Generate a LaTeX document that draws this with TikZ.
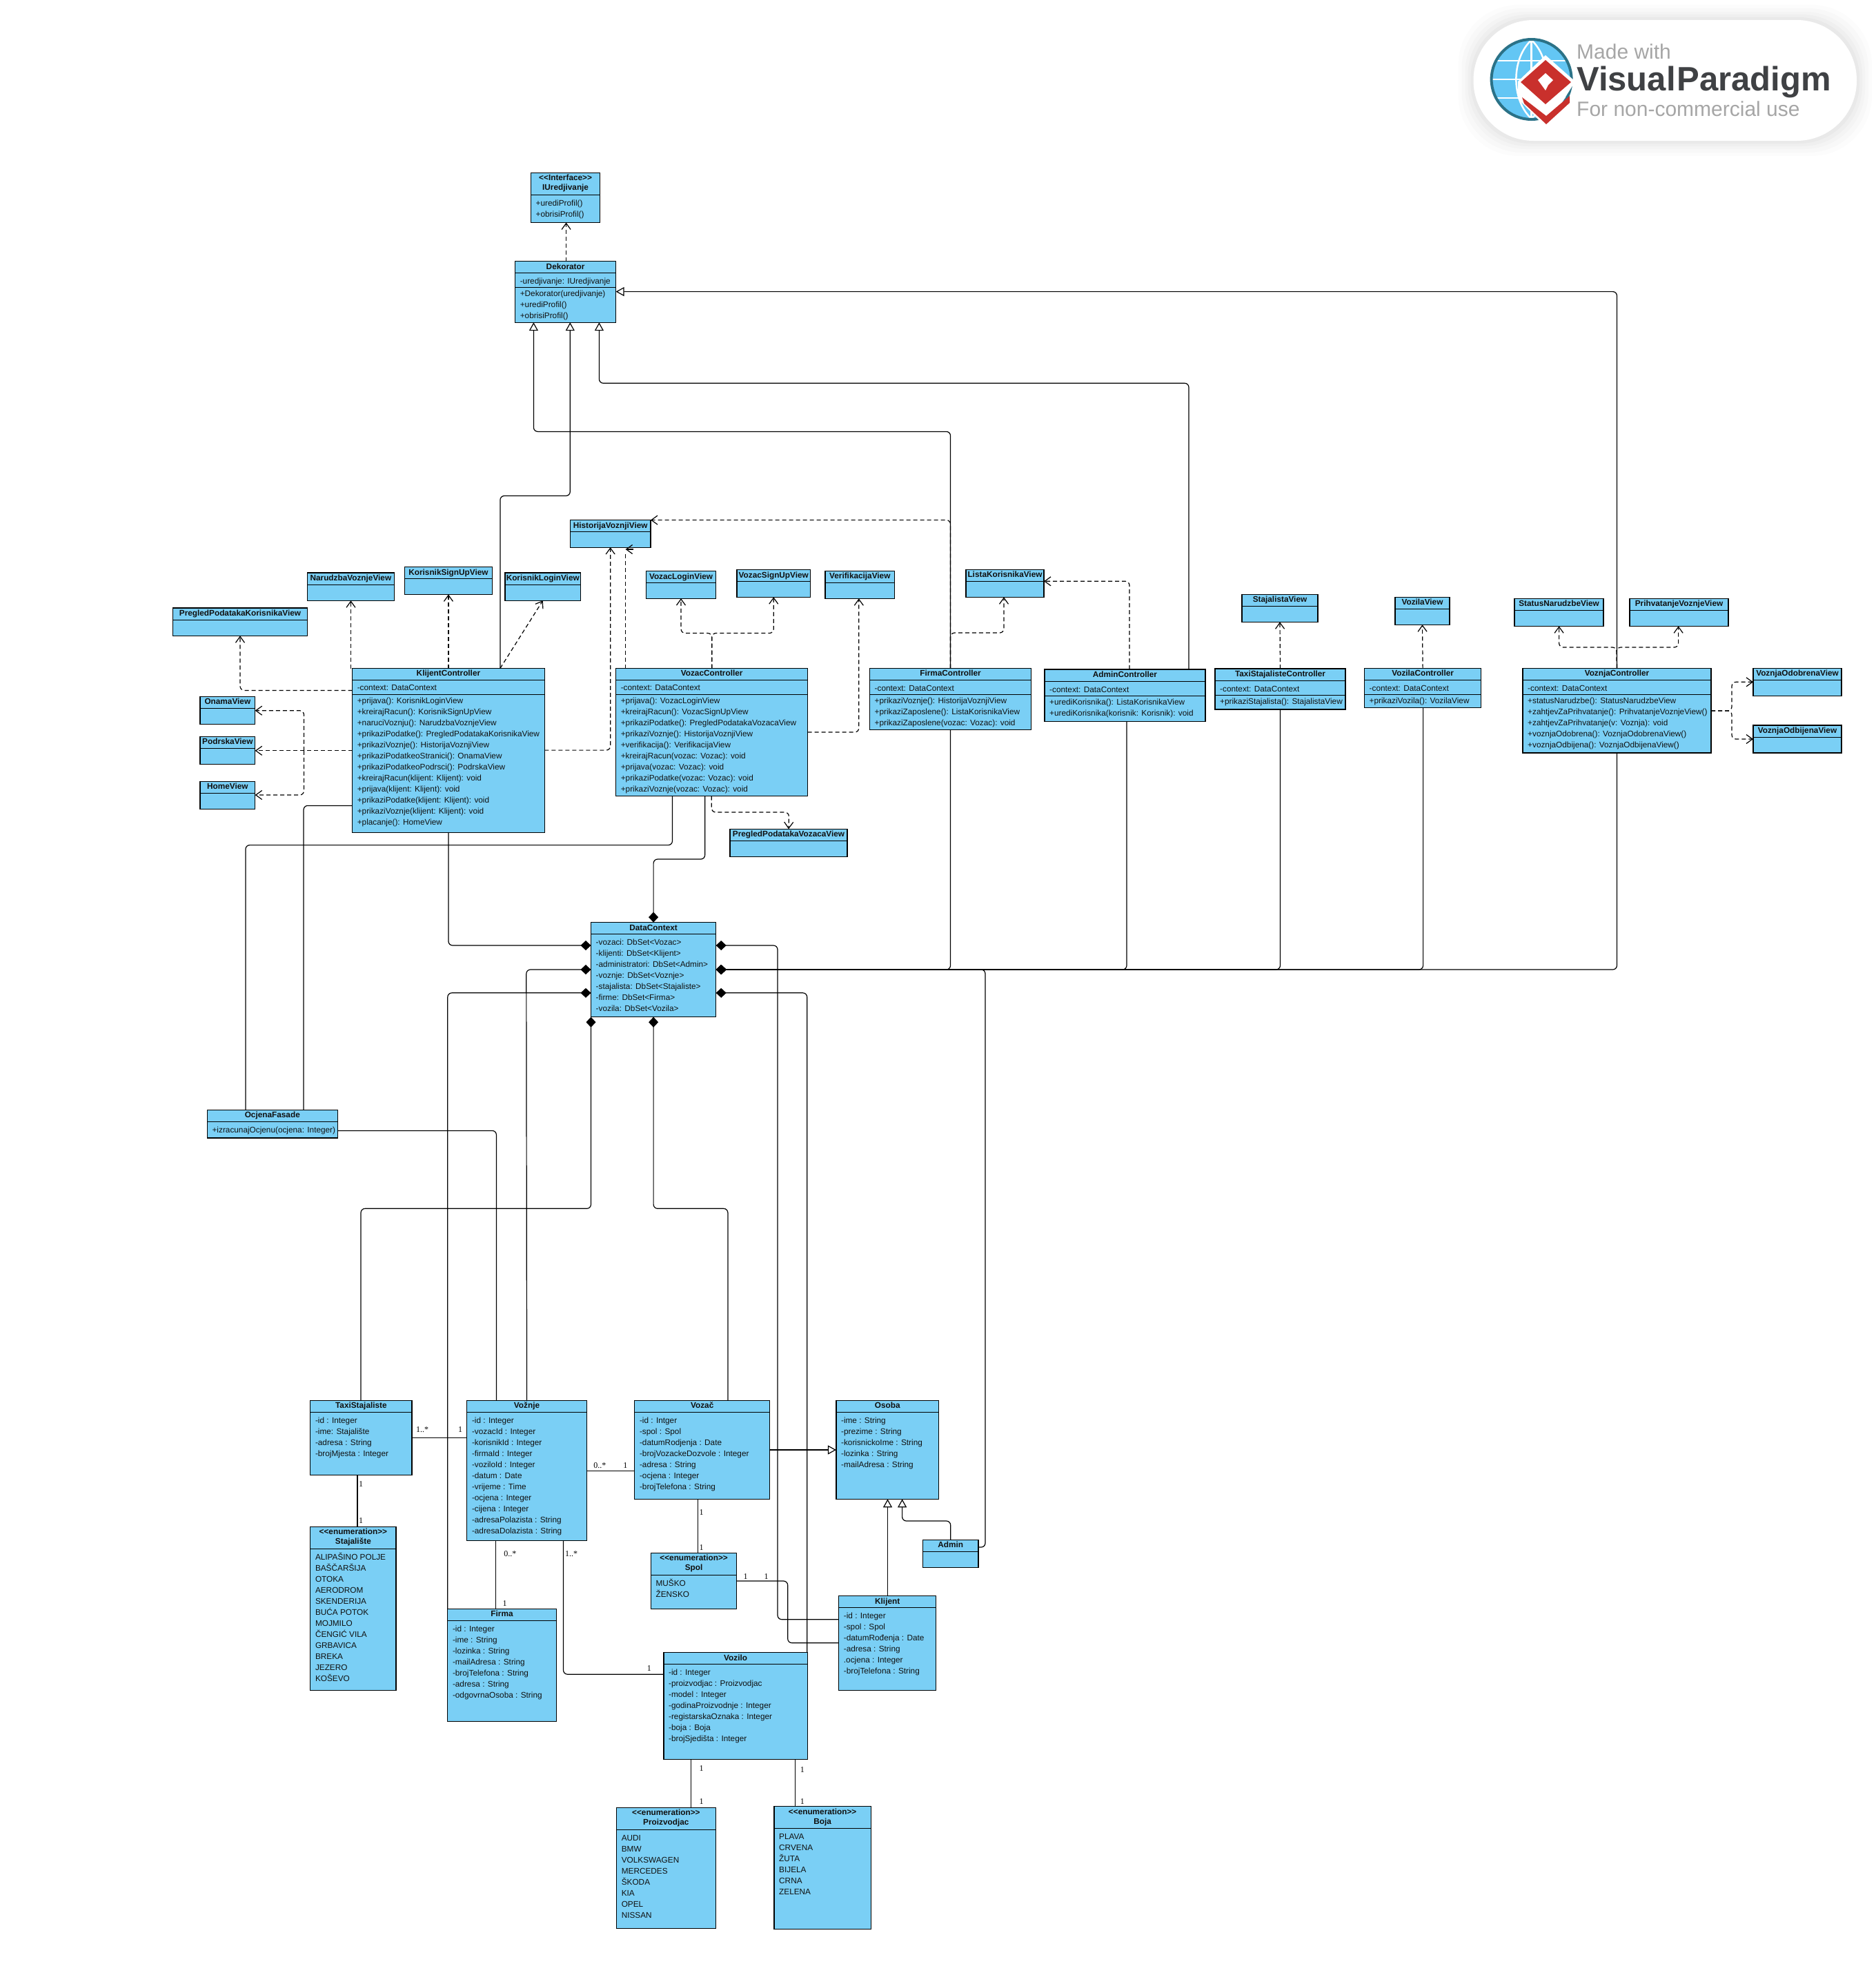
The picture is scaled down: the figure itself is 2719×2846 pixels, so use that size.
\documentclass[tikz,border=0pt]{standalone}
\usepackage{fontspec}
\usetikzlibrary{arrows.meta}
\newfontfamily\umlf{Liberation Sans}
\newfontfamily\multf{Liberation Serif}
\definecolor{umlfill}{HTML}{7ACFF5}
\definecolor{umltext}{HTML}{101010}
\definecolor{vpgray}{HTML}{A6A6A6}
\definecolor{vpdark}{HTML}{3F4144}
\definecolor{vpred}{HTML}{C9302C}
\definecolor{vpblue}{HTML}{63C6F4}
\definecolor{vpteal}{HTML}{2B7287}
\tikzset{
  umlbox/.style={draw=black,fill=umlfill,line width=1.2pt,inner sep=0,outer sep=0,anchor=north west},
  umlline/.style={draw=black,line width=1pt},
  umltitle/.style={inner sep=0,anchor=north,align=center,text=umltext,font=\umlf\bfseries\fontsize{11.8}{14}\selectfont},
  umlrows/.style={inner sep=0,anchor=north west,align=left,text=umltext,font=\umlf\fontsize{11.8}{16}\selectfont},
  assoc/.style={draw=black,line width=1.2pt,rounded corners=6pt},
  dep/.style={assoc,dash pattern=on 6pt off 4pt,-{Straight Barb[length=9pt,width=13pt,line width=1.2pt]}},
  gen/.style={assoc,-{Triangle[open,length=12pt,width=13pt,fill=white,line width=1.2pt]}},
  comp/.style={assoc,-{Diamond[length=15pt,width=14pt]}},
  mult/.style={inner sep=0,text=black,font=\multf\fontsize{12}{14}\selectfont},
}
\newcommand{\rs}{\rule{0pt}{11.2pt}}
% name, x1,y1,x2,y2, title, divider y, rows
\newcommand{\umlc}[8]{%
  \node[umlbox,minimum width={(#4-#2)*1pt},minimum height={(#5-#3)*1pt}] (#1) at (#2,#3) {};
  \node[umltitle] (#1t) at (#1.north) {\rs #6};
  \draw[umlline] (#1.west |- 0,#7) -- (#1.east |- 0,#7);
  \node[umlrows] (#1a) at (#2+7,#7+4.4) {\rs #8};
}
% name, divider y, rows of a second compartment
\newcommand{\umls}[3]{%
  \draw[umlline] (#1.west |- 0,#2) -- (#1.east |- 0,#2);
  \node[umlrows] (#1b) at ([xshift=7pt]#1.west |- 0,#2+2) {\rs #3};
}
\begin{document}
\begin{tikzpicture}[x=1pt,y=-1pt]
\useasboundingbox (0,0) rectangle (2719,2846);
\fill[white] (0,0) rectangle (2719,2846);

% --- badge
\foreach \g/\o in {22/0.012,17/0.014,12/0.016,8/0.02,4/0.025}
  \fill[black,opacity=\o,rounded corners=87pt] (2135.5-\g,29-\g) rectangle (2691+\g,204+\g);
\fill[white,rounded corners=87pt] (2135.5,29) rectangle (2691,204);
\fill[vpblue] (2219.6,115) circle (57pt);
\draw[white,line width=2.5pt] (2219.6,58) -- (2219.6,172);
\draw[white,line width=2.5pt] (2219.6,58) .. controls (2190,85) and (2190,145) .. (2219.6,172);
\draw[white,line width=2.5pt] (2219.6,58) .. controls (2249,85) and (2249,145) .. (2219.6,172);
\draw[white,line width=2.5pt] (2165,88) -- (2274,88);
\draw[white,line width=2.5pt] (2163,115) -- (2276,115);
\draw[white,line width=2.5pt] (2165,142) -- (2274,142);
\draw[vpteal,line width=4pt] (2219.6,115) circle (58pt);
\fill[white] (2240,80) -- (2283,118) -- (2241,185) -- (2200,143) -- (2200,118) -- cycle;
\fill[vpred] (2240,87) -- (2277,119) -- (2240,151) -- (2204,119) -- cycle;
\fill[white] (2240,106) -- (2251,116) -- (2244,123) -- (2240,131) -- (2229,116) -- cycle;
\fill[vpred] (2206,141) -- (2241,168) -- (2275,139) -- (2275,149) -- (2241,180) -- (2209,150) -- cycle;
\node[inner sep=0,anchor=base west,text=vpgray,font=\umlf\fontsize{30}{32}\selectfont] (vpa) at (2285,85) {Made with};
\node[inner sep=0,anchor=base west,text=vpdark,font=\umlf\bfseries\fontsize{49}{52}\selectfont] (vpb) at (2285,131) {Visual\kern2pt Paradigm};
\node[inner sep=0,anchor=base west,text=vpgray,font=\umlf\fontsize{30}{32}\selectfont] (vpc) at (2285,168) {For non-commercial use};

% --- classes
\umlc{iured}{769.5}{250.4}{869.7}{322.5}{<{}<Interface>{}>\\IUredjivanje}{282.3}{+urediProfil()\\+obrisiProfil()}
\umlc{dek}{746.6}{378.6}{892.6}{467.2}{Dekorator}{395.8}{-uredjivanje: IUredjivanje}
\umls{dek}{416.2}{+Dekorator(uredjivanje)\\+urediProfil()\\+obrisiProfil()}

\umlc{kc}{510.6}{968.5}{789.3}{1206.4}{KlijentController}{985.1}{-context: DataContext}
\umls{kc}{1006.1}{+prijava(): KorisnikLoginView\\+kreirajRacun(): KorisnikSignUpView\\+naruciVoznju(): NarudzbaVoznjeView\\+prikaziPodatke(): PregledPodatakaKorisnikaView\\+prikaziVoznje(): HistorijaVoznjiView\\+prikaziPodatkeoStranici(): OnamaView\\+prikaziPodatkeoPodrsci(): PodrskaView\\+kreirajRacun(klijent: Klijent): void\\+prijava(klijent: Klijent): void\\+prikaziPodatke(klijent: Klijent): void\\+prikaziVoznje(klijent: Klijent): void\\+placanje(): HomeView}
\umlc{vc}{892.6}{968.5}{1170.7}{1153.5}{VozacController}{985.1}{-context: DataContext}
\umls{vc}{1006.1}{+prijava(): VozacLoginView\\+kreirajRacun(): VozacSignUpView\\+prikaziPodatke(): PregledPodatakaVozacaView\\+prikaziVoznje(): HistorijaVoznjiView\\+verifikacija(): VerifikacijaView\\+kreirajRacun(vozac: Vozac): void\\+prijava(vozac: Vozac): void\\+prikaziPodatke(vozac: Vozac): void\\+prikaziVoznje(vozac: Vozac): void}
\umlc{fc}{1260.5}{968.3}{1494.6}{1057.3}{FirmaController}{985.3}{-context: DataContext}
\umls{fc}{1006.3}{+prikaziVoznje(): HistorijaVoznjiView\\+prikaziZaposlene(): ListaKorisnikaView\\+prikaziZaposlene(vozac: Vozac): void}
\umlc{ac}{1514}{970}{1747}{1045.3}{AdminController}{987.3}{-context: DataContext}
\umls{ac}{1008.3}{+urediKorisnika(): ListaKorisnikaView\\+urediKorisnika(korisnik: Korisnik): void}
\umlc{tc}{1761}{969}{1950}{1028}{TaxiStajalisteController}{986.3}{-context: DataContext}
\umls{tc}{1007.3}{+prikaziStajalista(): StajalistaView}
\umlc{zc}{1977.5}{968.3}{2146.7}{1025.3}{VozilaController}{985.3}{-context: DataContext}
\umls{zc}{1006.3}{+prikaziVozila(): VozilaView}
\umlc{jc}{2207}{968.3}{2480}{1091}{VoznjaController}{985.3}{-context: DataContext}
\umls{jc}{1006.3}{+statusNarudzbe(): StatusNarudzbeView\\+zahtjevZaPrihvatanje(): PrihvatanjeVoznjeView()\\+zahtjevZaPrihvatanje(v: Voznja): void\\+voznjaOdobrena(): VoznjaOdobrenaView()\\+voznjaOdbijena(): VoznjaOdbijenaView()}

\umlc{vhist}{826.3}{753.6}{943}{793.1}{HistorijaVoznjiView}{770.8}{}
\umlc{vnar}{445.6}{830}{571.2}{870.3}{NarudzbaVoznjeView}{847.3}{}
\umlc{vksu}{586.5}{821.8}{713.4}{861.4}{KorisnikSignUpView}{838.4}{}
\umlc{vkl}{731.9}{830}{841.6}{870.3}{KorisnikLoginView}{847.3}{}
\umlc{vzl}{936.6}{827.6}{1037.4}{867.1}{VozacLoginView}{844.8}{}
\umlc{vzs}{1068}{825.6}{1174.5}{865.2}{VozacSignUpView}{842.8}{}
\umlc{vver}{1196}{827.3}{1296.6}{867.3}{VerifikacijaView}{844.3}{}
\umlc{vlis}{1400}{825.3}{1513}{865.3}{ListaKorisnikaView}{842.3}{}
\umlc{vsta}{1800}{861.3}{1910}{901.3}{StajalistaView}{878.3}{}
\umlc{vvoz}{2022}{865.3}{2101}{905.3}{VozilaView}{882.3}{}
\umlc{vsn}{2195}{867.3}{2324}{907.3}{StatusNarudzbeView}{884.3}{}
\umlc{vpri}{2362}{867.3}{2505}{907.3}{PrihvatanjeVoznjeView}{884.3}{}
\umlc{vodo}{2541}{968.3}{2669}{1008.3}{VoznjaOdobrenaView}{985.3}{}
\umlc{vodb}{2541}{1051}{2669}{1091}{VoznjaOdbijenaView}{1068}{}
\umlc{vpk}{250.4}{881}{445.6}{921.3}{PregledPodatakaKorisnikaView}{898.4}{}
\umlc{von}{290}{1009.3}{369.7}{1049.5}{OnamaView}{1026.6}{}
\umlc{vpo}{290}{1067.4}{369.7}{1107.6}{PodrskaView}{1084.6}{}
\umlc{vho}{290}{1132.4}{369.7}{1172.6}{HomeView}{1149.6}{}
\umlc{vpv}{1058}{1201.3}{1228}{1241.5}{PregledPodatakaVozacaView}{1218.3}{}

\umlc{dc}{856.5}{1336.6}{1037.7}{1473.7}{DataContext}{1353.6}{-vozaci: DbSet<Vozac>\\-klijenti: DbSet<Klijent>\\-administratori: DbSet<Admin>\\-voznje: DbSet<Voznje>\\-stajalista: DbSet<Stajaliste>\\-firme: DbSet<Firma>\\-vozila: DbSet<Vozila>}
\umlc{of}{300.4}{1608.5}{489.2}{1649}{OcjenaFasade}{1625.4}{+izracunajOcjenu(ocjena: Integer)}

\umlc{taxi}{449.8}{2029.3}{597}{2137.3}{TaxiStajaliste}{2046.3}{-id : Integer\\-ime: Stajalište\\-adresa : String\\-brojMjesta : Integer}
\umlc{voz}{676.8}{2029.3}{850.3}{2232.7}{Vožnje}{2046.3}{-id : Integer\\-vozacId : Integer\\-korisnikId : Integer\\-firmaId : Integer\\-voziloId : Integer\\-datum : Date\\-vrijeme : Time\\-ocjena : Integer\\-cijena : Integer\\-adresaPolazista : String\\-adresaDolazista : String}
\umlc{vzc}{919.8}{2029.3}{1115.6}{2172.3}{Vozač}{2046.3}{-id : Intger\\-spol : Spol\\-datumRodjenja : Date\\-brojVozackeDozvole : Integer\\-adresa : String\\-ocjena : Integer\\-brojTelefona : String}
\umlc{oso}{1211.9}{2029.3}{1360.5}{2172.3}{Osoba}{2046.3}{-ime : String\\-prezime : String\\-korisnickoIme : String\\-lozinka : String\\-mailAdresa : String}
\umlc{est}{449.8}{2212.3}{574}{2449.3}{<{}<enumeration>{}>\\Stajalište}{2244.3}{ALIPAŠINO POLJE\\BAŠČARŠIJA\\OTOKA\\AERODROM\\SKENDERIJA\\BUĆA POTOK\\MOJMILO\\ČENGIĆ VILA\\GRBAVICA\\BREKA\\JEZERO\\KOŠEVO}
\umlc{esp}{943.4}{2250.3}{1067.8}{2331.3}{<{}<enumeration>{}>\\Spol}{2282.3}{MUŠKO\\ŽENSKO}
\umlc{fir}{648.8}{2331.5}{806.3}{2494.4}{Firma}{2348.4}{-id : Integer\\-ime : String\\-lozinka : String\\-mailAdresa : String\\-brojTelefona : String\\-adresa : String\\-odgovrnaOsoba : String}
\umlc{kl}{1215.7}{2312.6}{1356.7}{2449.4}{Klijent}{2329.4}{-id : Integer\\-spol : Spol\\-datumRođenja : Date\\-adresa : String\\.ocjena : Integer\\-brojTelefona : String}
\umlc{adm}{1337.5}{2231.3}{1417.9}{2271.3}{Admin}{2248.2}{}
\umlc{vil}{961.9}{2394.6}{1170.4}{2549.5}{Vozilo}{2411.9}{-id : Integer\\-proizvodjac : Proizvodjac\\-model : Integer\\-godinaProizvodnje : Integer\\-registarskaOznaka : Integer\\-boja : Boja\\-brojSjedišta : Integer}
\umlc{epr}{893.6}{2619.4}{1037.1}{2794.5}{<{}<enumeration>{}>\\Proizvodjac}{2651.4}{AUDI\\BMW\\VOLKSWAGEN\\MERCEDES\\ŠKODA\\KIA\\OPEL\\NISSAN}
\umlc{ebo}{1122}{2617.7}{1262.3}{2795.7}{<{}<enumeration>{}>\\Boja}{2649.7}{PLAVA\\CRVENA\\ŽUTA\\BIJELA\\CRNA\\ZELENA}

% --- dependencies
\draw[dep] (dek.north -| 820.6,0) -- (iured.south -| 820.6,0);
\draw[dep] (508.5,0 |- kc.north) -- (508.5,0 |- vnar.south);
\draw[dep] (kc.north) -- (vksu.south);
\draw[dep] (724.9,0 |- kc.north) -- (vkl.south);
\draw[dep] (kc.west |- 0,1000.4) -- (vpk.south |- 0,1000.4) -- (vpk.south);
\draw[dep] (kc.west |- 0,1087.8) -- (vpo.east |- 0,1087.8);
\coordinate (kview) at (440.5,1087.8);
\draw[dep] (kview) |- (von.east |- 0,1029.7);
\draw[dep] (kview) |- (vho.east |- 0,1152);
\draw[dep] (kc.east |- 0,1087.1) -- (vhist.south |- 0,1087.1) -- (vhist.south);
\draw[assoc,dash pattern=on 6pt off 4pt] (906.6,0 |- vc.north) -- (906.6,0 |- 0,799);
\coordinate (vhistend) at (906.6,796);
\draw[dep,solid] (918,796) -- (vhistend);
\draw[dep] (fc.north) -- (fc.north |- vhist.north) -- (vhist.north east);
\draw[dep] (fc.north) -- (fc.north |- 0,917) -- (1455,917) -- (1455,0 |- vlis.south);
\draw[dep] (1637,0 |- ac.north) |- (vlis.east |- 0,842.3);
\draw[dep] (tc.north) -- (vsta.south);
\draw[dep] (zc.north) -- (vvoz.south);
\coordinate (jup) at (2343,938);
\draw[dep] (jc.north) -- (jup) -| (2259.6,0 |- vsn.south);
\draw[dep] (jc.north) -- (jup) -| (2432.6,0 |- vpri.south);
\coordinate (jright) at (2510,1030);
\draw[dep] (jc.east |- jright) -- (jright) |- (vodo.west);
\draw[dep] (jc.east |- jright) -- (jright) |- (vodb.west);
\coordinate (vup) at (1031.7,917.5);
\draw[dep] (vc.north) -- (vup) -| (vzl.south);
\draw[dep] (vc.north) -- (vup) -| (vzs.south);
\draw[dep] (vc.east |- 0,1061) -- (1244.8,1061) -- (1244.8,0 |- vver.south);
\draw[dep] (1031.3,0 |- vc.south) |- (1143.5,1177) -- (vpv.north);

% --- generalizations
\draw[gen] (724.9,0 |- kc.north) -- (724.9,718.5) -- (826.3,718.5) -- (826.3,0 |- dek.south);
\draw[gen] (fc.north) -- (fc.north |- 0,625.4) -- (773.4,625.4) -- (773.4,0 |- dek.south);
\draw[gen] (1723,0 |- ac.north) -- (1723,555.3) -- (868.4,555.3) -- (868.4,0 |- dek.south);
\draw[gen] (jc.north) |- (dek.east |- 0,422.6);
\draw[gen] (vzc.east |- 0,2101) -- (oso.west |- 0,2101);
\draw[gen] (1286.5,0 |- kl.north) -- (1286.5,0 |- oso.south);
\draw[gen] (1377.7,0 |- adm.north) -- (1377.7,2204) -- (1307.6,2204) -- (1307.6,0 |- oso.south);

% --- compositions onto DataContext
\draw[comp] (kc.south) |- (dc.west |- 0,1370);
\draw[comp] (1021.7,0 |- vc.south) -- (1021.7,1245) -- (dc.north |- 0,1245) -- (dc.north);
\draw[comp] (voz.north) -- (762.8,1405) -- (dc.west |- 0,1405);
\draw[comp] (648.8,0 |- fir.north) |- (dc.west |- 0,1438.8);
\draw[comp] (523,0 |- taxi.north) -- (523,1751.3) -- (856.5,1751.3) -- (dc.south west);
\draw[comp] (1054.9,0 |- vzc.north) -- (1054.9,1751.3) -- (dc.south |- 0,1751.3) -- (dc.south);
\draw[comp] (kl.west |- 0,2346.7) -| (1127,1370) -- (dc.east |- 0,1370);
\draw[comp] (1169.7,0 |- vil.north) |- (dc.east |- 0,1438.8);
\draw[comp] (fc.south) |- (dc.east |- 0,1405);
\draw[comp] (1633,0 |- ac.south) |- (dc.east |- 0,1405);
\draw[comp] (tc.south) |- (dc.east |- 0,1405);
\draw[comp] (2062.6,0 |- zc.south) |- (dc.east |- 0,1405);
\draw[comp] (jc.south) |- (dc.east |- 0,1405);
\draw[comp] (adm.east |- 0,2242) -| (1428,1405) -- (dc.east |- 0,1405);

% --- other associations
\draw[assoc] (597,2083.3) -- (676.8,2083.3);
\draw[assoc] (518,0 |- taxi.south) -- (518,0 |- est.north);
\draw[assoc] (voz.east |- 0,2131.7) -- (vzc.west |- 0,2131.7);
\draw[assoc] (1011.6,0 |- vzc.south) -- (1011.6,0 |- esp.north);
\draw[assoc] (718.3,0 |- voz.south) -- (718.3,0 |- fir.north);
\draw[assoc] (816.5,0 |- voz.south) |- (vil.west |- 0,2426.2);
\draw[assoc] (esp.east |- 0,2291) -- (1141.7,2291) -- (1141.7,2380.7) -- (kl.west |- 0,2380.7);
\draw[assoc] (1001.4,0 |- vil.south) -- (1001.4,0 |- epr.north);
\draw[assoc] (1152.6,0 |- vil.south) -- (1152.6,0 |- ebo.north);

% --- OcjenaFasade links
\draw[assoc] (974.5,0 |- vc.south) -- (974.5,1224.6) -- (355.9,1224.6) -- (355.9,0 |- of.north);
\draw[assoc] (kc.west |- 0,1167.4) -| (440,0 |- of.north);
\draw[assoc] (of.east |- 0,1638.4) -| (719.4,0 |- voz.north);

% --- multiplicities
\node[mult] (m1) at (612,2071.7) {1..*};
\node[mult] (m2) at (667,2071.7) {1};
\node[mult] (m3) at (523,2150.7) {1};
\node[mult] (m4) at (523,2204) {1};
\node[mult] (m5) at (869.4,2123.7) {0..*};
\node[mult] (m6) at (906.4,2123.7) {1};
\node[mult] (m7) at (1016.7,2191.7) {1};
\node[mult] (m8) at (1016.7,2242.3) {1};
\node[mult] (m9) at (739.3,2251.7) {0..*};
\node[mult] (m10) at (731.7,2323.3) {1};
\node[mult] (m11) at (828,2251.7) {1..*};
\node[mult] (m12) at (940.8,2417.8) {1};
\node[mult] (m13) at (1080.5,2284.3) {1};
\node[mult] (m14) at (1110.5,2284.3) {1};
\node[mult] (m15) at (1016.7,2562.6) {1};
\node[mult] (m16) at (1016.7,2610.6) {1};
\node[mult] (m17) at (1162.8,2564.3) {1};
\node[mult] (m18) at (1162.8,2610.6) {1};
\end{tikzpicture}
\end{document}
